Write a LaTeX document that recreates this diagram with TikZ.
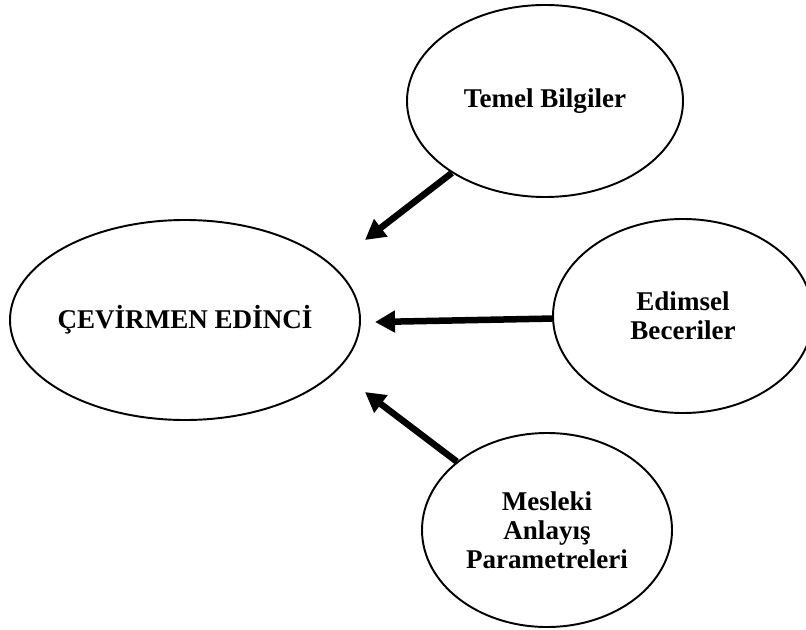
\documentclass[tikz,border=0pt]{standalone}
\usepackage{fontspec}
\setmainfont{Liberation Serif}
\usepackage{tikz}
\usetikzlibrary{arrows.meta, shapes.geometric}
\tikzset{
    % outlined ellipse holding one concept
    bubble/.style={ellipse, draw, line width=1.1pt, inner sep=0pt, align=center,
        font=\fontsize{15.4}{16.4}\selectfont\bfseries},
    % heavy arrow pointing at the central concept
    edge/.style={-{Triangle[length=0.40cm, width=0.42cm]}, line width=3.7pt},
}

\begin{document}
\begin{tikzpicture}

    \useasboundingbox (0, 0) rectangle (16.12, 12.58);

    % ---- central concept ----
    \node[bubble, inner xsep=-0.6cm, minimum width=7.0cm, minimum height=4.0cm]
        (edinc) at (3.70, 6.18) {ÇEVİRMEN EDİNCİ};

    % ---- components ----
    \node[bubble, minimum width=5.52cm, minimum height=3.84cm] (temel) at (10.90, 10.56)
        {Temel Bilgiler};
    \node[bubble, minimum width=5.20cm, minimum height=3.88cm] (edimsel) at (13.66, 6.26)
        {Edimsel\\Beceriler};
    \node[bubble, minimum width=5.00cm, minimum height=3.88cm] (mesleki) at (10.94, 1.98)
        {Mesleki\\Anlayış\\Parametreleri};

    % arrow tips, short of the central ellipse
    \coordinate (tipA) at (7.30, 7.78);
    \coordinate (tipB) at (7.50, 6.14);
    \coordinate (tipC) at (7.30, 4.74);

    \foreach \s/\t in {temel/tipA, edimsel/tipB, mesleki/tipC}{
        \draw[edge] (\s) -- (\t);
    }

\end{tikzpicture}
\end{document}
